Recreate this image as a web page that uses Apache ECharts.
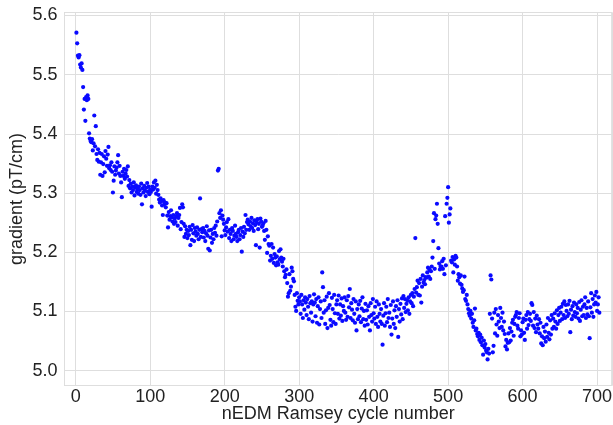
<!DOCTYPE html>
<html>
<head>
<meta charset="utf-8">
<script src="https://cdn.jsdelivr.net/npm/echarts@6/dist/echarts.min.js"></script>
<style>html,body{margin:0;padding:0;background:#fff}#c{width:613px;height:425px}</style>
</head>
<body>
<div id="c"></div>
<script>
// Gradient values (pT/cm) for nEDM Ramsey cycles 1, 2, 3, ... (one per cycle, in order)
const gradient = [
5.571,5.553,5.532,5.529,5.533,5.517,5.512,5.519,5.508,5.479,
5.441,5.459,5.422,5.462,5.457,5.465,5.459,5.401,5.392,5.388,
5.386,5.391,5.372,5.384,5.431,5.379,5.413,5.366,5.356,5.374,
5.353,5.368,5.331,5.352,5.366,5.329,5.349,5.362,5.335,5.371,
5.358,5.346,5.365,5.378,5.342,5.347,5.339,5.352,5.336,5.301,
5.321,5.345,5.331,5.338,5.343,5.352,5.364,5.333,5.346,5.329,
5.318,5.293,5.336,5.329,5.341,5.324,5.333,5.339,5.328,5.345,
5.312,5.322,5.308,5.316,5.301,5.311,5.305,5.318,5.296,5.309,
5.313,5.302,5.307,5.299,5.311,5.305,5.297,5.316,5.281,5.308,
5.301,5.312,5.304,5.295,5.309,5.317,5.302,5.311,5.298,5.306,
5.302,5.277,5.311,5.306,5.318,5.309,5.321,5.299,5.314,5.305,
5.297,5.289,5.284,5.291,5.286,5.279,5.263,5.288,5.281,5.284,
5.276,5.283,5.262,5.242,5.268,5.255,5.261,5.271,5.259,5.252,
5.263,5.248,5.257,5.251,5.261,5.266,5.245,5.258,5.263,5.275,
5.239,5.251,5.281,5.276,5.248,5.226,5.244,5.231,5.238,5.224,
5.236,5.229,5.243,5.212,5.238,5.221,5.246,5.232,5.219,5.241,
5.235,5.228,5.242,5.231,5.222,5.238,5.291,5.226,5.239,5.234,
5.241,5.225,5.236,5.219,5.232,5.244,5.228,5.206,5.237,5.203,
5.225,5.238,5.216,5.231,5.222,5.241,5.233,5.245,5.228,5.252,
5.338,5.341,5.266,5.258,5.271,5.227,5.262,5.255,5.248,5.237,
5.229,5.242,5.251,5.235,5.256,5.224,5.238,5.231,5.219,5.241,
5.236,5.222,5.228,5.245,5.231,5.226,5.219,5.234,5.238,5.222,
5.229,5.241,5.201,5.235,5.226,5.243,5.232,5.263,5.238,5.251,
5.255,5.247,5.238,5.252,5.244,5.258,5.241,5.249,5.236,5.254,
5.246,5.212,5.251,5.256,5.239,5.248,5.208,5.257,5.252,5.243,
5.245,5.249,5.236,5.221,5.253,5.238,5.199,5.227,5.214,5.211,
5.186,5.194,5.214,5.189,5.208,5.182,5.197,5.191,5.178,5.193,
5.183,5.179,5.202,5.188,5.205,5.191,5.184,5.176,5.189,5.168,
5.158,5.162,5.171,5.148,5.125,5.131,5.163,5.135,5.142,5.174,
5.168,5.155,5.151,5.128,5.108,5.101,5.131,5.118,5.112,5.124,
5.117,5.096,5.128,5.112,5.089,5.119,5.103,5.124,5.115,5.094,
5.121,5.108,5.087,5.126,5.114,5.098,5.117,5.083,5.112,5.129,
5.115,5.092,5.121,5.081,5.109,5.124,5.078,5.104,5.117,5.089,
5.166,5.141,5.098,5.119,5.079,5.102,5.125,5.072,5.106,5.131,
5.111,5.086,5.076,5.123,5.104,5.082,5.128,5.097,5.079,5.112,
5.119,5.096,5.127,5.088,5.112,5.093,5.122,5.084,5.109,5.101,
5.124,5.098,5.086,5.119,5.091,5.126,5.107,5.138,5.089,5.114,
5.103,5.085,5.121,5.096,5.081,5.117,5.068,5.104,5.087,5.112,
5.092,5.118,5.082,5.105,5.124,5.087,5.101,5.076,5.113,5.086,
5.102,5.078,5.109,5.091,5.068,5.114,5.094,5.083,5.121,5.097,
5.088,5.108,5.079,5.117,5.091,5.074,5.112,5.096,5.083,5.104,
5.079,5.044,5.093,5.114,5.076,5.097,5.108,5.082,5.121,5.089,
5.098,5.074,5.111,5.061,5.088,5.117,5.079,5.102,5.072,5.109,
5.091,5.119,5.057,5.104,5.083,5.113,5.095,5.122,5.087,5.126,
5.106,5.121,5.099,5.113,5.119,5.102,5.124,5.096,5.117,5.128,
5.114,5.131,5.109,5.125,5.138,5.224,5.132,5.141,5.152,5.128,
5.148,5.127,5.155,5.115,5.142,5.161,5.149,5.153,5.146,5.158,
5.157,5.166,5.174,5.159,5.171,5.155,5.168,5.176,5.191,5.219,
5.266,5.172,5.256,5.262,5.282,5.248,5.207,5.181,5.171,5.176,
5.176,5.185,5.172,5.189,5.163,5.261,5.178,5.282,5.292,5.310,
5.250,5.264,5.274,5.186,5.183,5.192,5.166,5.188,5.179,5.194,
5.191,5.176,5.152,5.163,5.158,5.147,5.161,5.145,5.139,5.133,
5.136,5.159,5.121,5.118,5.128,5.112,5.104,5.097,5.093,5.101,
5.088,5.096,5.081,5.074,5.085,5.105,5.068,5.071,5.062,5.058,
5.064,5.052,5.061,5.048,5.056,5.043,5.027,5.051,5.039,5.045,
5.034,5.031,5.019,5.037,5.029,5.096,5.161,5.154,5.088,5.031,
5.042,5.098,5.063,5.104,5.078,5.059,5.094,5.083,5.072,5.106,
5.089,5.074,5.098,5.068,5.083,5.062,5.041,5.052,5.036,5.047,
5.063,5.048,5.072,5.051,5.066,5.081,5.086,5.059,5.079,5.091,
5.094,5.099,5.076,5.071,5.089,5.097,5.058,5.068,5.061,5.082,
5.088,5.064,5.052,5.086,5.094,5.071,5.099,5.077,5.087,5.096,
5.084,5.114,5.111,5.076,5.099,5.072,5.088,5.065,5.093,5.078,
5.071,5.087,5.063,5.081,5.046,5.058,5.043,5.074,5.055,5.066,
5.049,5.078,5.057,5.089,5.064,5.053,5.085,5.061,5.094,5.071,
5.088,5.074,5.097,5.083,5.071,5.102,5.079,5.094,5.106,5.084,
5.098,5.108,5.087,5.113,5.094,5.117,5.089,5.111,5.101,5.092,
5.112,5.096,5.118,5.065,5.103,5.087,5.109,5.093,5.115,5.099,
5.091,5.112,5.097,5.106,5.088,5.116,5.084,5.103,5.119,5.092,
5.108,5.094,5.112,5.124,5.089,5.106,5.095,5.117,5.092,5.055,
5.107,5.131,5.098,5.121,5.091,5.112,5.127,5.115,5.133,5.101,
5.112,5.124,5.098
];
const firstCycle = 1;
const xTickLabels = ['0','100','200','300','400','500','600','700'];
const yTickLabels = ['5.0','5.1','5.2','5.3','5.4','5.5','5.6'];

const points = gradient.map((g, i) => [firstCycle + i, g]);

const chart = echarts.init(document.getElementById('c'), null, {renderer: 'canvas'});
const font = 'Liberation Sans, Arial, sans-serif';
chart.setOption({
  animation: false,
  backgroundColor: '#ffffff',
  grid: {left: 64.5, right: 1, top: 12.5, bottom: 39.5, show: true, borderColor: '#c4c4c4', borderWidth: 1,
    containLabel: false, outerBoundsMode: 'none'},
  xAxis: {
    type: 'value', min: -15, max: 720, minInterval: 100, maxInterval: 100,
    axisLine: {show: false}, axisTick: {show: false},
    splitLine: {show: true, lineStyle: {color: '#dedede', width: 1}},
    axisLabel: {showMinLabel: false, showMaxLabel: false, color: '#222', fontSize: 18, fontFamily: font, margin: 3,
      formatter: v => xTickLabels.includes(String(v)) ? String(v) : ''},
    name: 'nEDM Ramsey cycle number', nameLocation: 'middle', nameGap: 20, nameMoveOverlap: false,
    nameTextStyle: {color: '#222', fontSize: 18, fontFamily: font, verticalAlign: 'top'}
  },
  yAxis: {
    type: 'value', min: 4.975, max: 5.605, minInterval: 0.1, maxInterval: 0.1,
    axisLine: {show: false}, axisTick: {show: false},
    splitLine: {show: true, lineStyle: {color: '#dedede', width: 1}},
    axisLabel: {showMinLabel: false, showMaxLabel: false, color: '#222', fontSize: 18, fontFamily: font, margin: 7,
      formatter: v => { const s = v.toFixed(1); return yTickLabels.includes(s) && Math.abs(v - parseFloat(s)) < 1e-6 ? s : ''; }},
    name: 'gradient (pT/cm)', nameLocation: 'middle', nameGap: 38, nameMoveOverlap: false,
    nameTextStyle: {color: '#222', fontSize: 18, fontFamily: font}
  },
  series: [{
    type: 'scatter', data: points, symbol: 'circle', symbolSize: 4.2,
    itemStyle: {color: '#0a0aff', opacity: 1}, silent: true
  }]
});
</script>
</body>
</html>
